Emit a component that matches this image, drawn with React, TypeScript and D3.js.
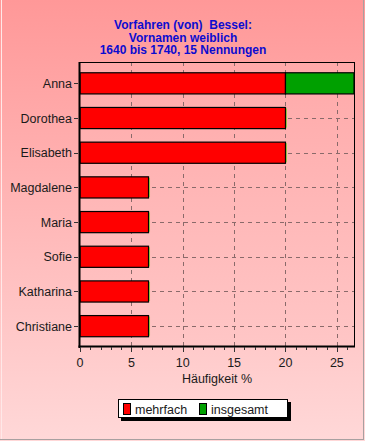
import React, { useEffect } from 'react';
import * as d3 from 'd3';

const W = 365;
const H = 441;

const titleLines = ['Vorfahren (von)  Bessel:', 'Vornamen weiblich', '1640 bis 1740, 15 Nennungen'];
const names = ['Anna', 'Dorothea', 'Elisabeth', 'Magdalene', 'Maria', 'Sofie', 'Katharina', 'Christiane'];
const mehrfach = [20, 20, 20, 6.67, 6.67, 6.67, 6.67, 6.67];
const insgesamt = [6.67, 0, 0, 0, 0, 0, 0, 0];
const xTicks = [0, 5, 10, 15, 20, 25];
const legendItems = [
  { label: 'mehrfach', color: '#ff0000' },
  { label: 'insgesamt', color: '#00a000' },
];

const FONT = '"Liberation Sans", Arial, sans-serif';

const App: React.FC = () => {
  useEffect(() => {
    document.body.style.margin = '0';
  }, []);

  const left = 80;
  const right = 354;
  const top = 62;
  const bottom = 346;

  const x = d3.scaleLinear().domain([0, 26.67]).range([left, right]);
  const y = d3.scaleBand<string>().domain(names).range([66, 343.5]).paddingInner(0.39).paddingOuter(0.195);
  const minor = d3.range(0, 27, 1);

  return (
    <svg width={W} height={H} style={{ display: 'block' }} fontFamily={FONT}>
      <defs>
        <linearGradient id="bg" x1="0" y1="0" x2="0" y2="1">
          <stop offset="0" stopColor="#ff9898" />
          <stop offset="1" stopColor="#ffd8d8" />
        </linearGradient>
        <linearGradient id="plotbg" x1="0" y1="0" x2="0" y2="1">
          <stop offset="0" stopColor="#ffa9a9" />
          <stop offset="1" stopColor="#ffc6c6" />
        </linearGradient>
      </defs>
      <rect x={0} y={0} width={W} height={H} fill="url(#bg)" />
      <line x1={363.5} y1={0} x2={363.5} y2={440} stroke="#a8a0a0" />
      <line x1={0} y1={439.5} x2={364} y2={439.5} stroke="#a8a0a0" />
      <line x1={1.5} y1={0} x2={1.5} y2={439} stroke="#ffe8e8" />

      {titleLines.map((t, i) => (
        <text key={t} x={183} y={29 + i * 12.5} textAnchor="middle" fontSize={12} fontWeight="bold" fill="#0c0cd0" style={{ whiteSpace: 'pre' }}>
          {t}
        </text>
      ))}

      <rect x={left} y={top} width={right - left} height={bottom - top} fill="url(#plotbg)" />

      {/* grid */}
      {xTicks.filter(t => t > 0).map(t => (
        <line key={'gx' + t} x1={Math.round(x(t)) + 0.5} x2={Math.round(x(t)) + 0.5} y1={top} y2={bottom} stroke="#8a6a6a" strokeDasharray="4,4" />
      ))}
      {names.map(n => (
        <line key={'gy' + n} x1={left} x2={right} y1={Math.round(y(n)! + y.bandwidth() / 2) + 0.5} y2={Math.round(y(n)! + y.bandwidth() / 2) + 0.5} stroke="#8a6a6a" strokeDasharray="4,4" />
      ))}

      {/* bars */}
      {names.map((n, i) => (
        <g key={'b' + n}>
          <rect x={x(0)} y={y(n)!} width={x(mehrfach[i]) - x(0)} height={y.bandwidth()} fill="#ff0000" stroke="#000" strokeWidth={1.2} />
          {insgesamt[i] > 0 ? (
            <rect x={x(mehrfach[i])} y={y(n)!} width={x(mehrfach[i] + insgesamt[i]) - x(mehrfach[i])} height={y.bandwidth()} fill="#00a000" stroke="#000" strokeWidth={1.2} />
          ) : (
            <line x1={x(mehrfach[i]) + 1} x2={x(mehrfach[i]) + 1} y1={y(n)! + 1} y2={y(n)! + y.bandwidth() - 1} stroke="#90c040" strokeWidth={1} />
          )}
        </g>
      ))}

      {/* frame */}
      <line x1={left} x2={right} y1={top + 0.5} y2={top + 0.5} stroke="#000" />
      <line x1={right + 0.5} x2={right + 0.5} y1={top} y2={bottom} stroke="#000" />
      <line x1={left - 0.5} x2={left - 0.5} y1={top} y2={bottom + 2} stroke="#000" strokeWidth={2} />
      <line x1={left - 1.5} x2={right + 1} y1={bottom + 0.5} y2={bottom + 0.5} stroke="#000" strokeWidth={2} />

      {/* y axis */}
      {names.map(n => {
        const cy = y(n)! + y.bandwidth() / 2;
        return (
          <g key={'yl' + n}>
            <line x1={74} x2={78} y1={Math.round(cy) + 0.5} y2={Math.round(cy) + 0.5} stroke="#333" />
            <text x={72} y={cy + 4.5} textAnchor="end" fontSize={12.5} fill="#1a1a1a">{n}</text>
          </g>
        );
      })}

      {/* x axis */}
      {minor.map(t => (
        <line key={'mt' + t} x1={Math.round(x(t)) + 0.5} x2={Math.round(x(t)) + 0.5} y1={bottom + 1} y2={bottom + (t % 5 === 0 ? 6 : 4)} stroke="#333" />
      ))}
      {xTicks.map(t => (
        <text key={'xl' + t} x={x(t)} y={367} textAnchor="middle" fontSize={12.5} fill="#1a1a1a">{t}</text>
      ))}
      <text x={(left + right) / 2} y={383} textAnchor="middle" fontSize={12.5} fill="#1a1a1a">Häufigkeit %</text>

      {/* legend */}
      <rect x={121} y={402} width={170} height={19} fill="#000" />
      <rect x={118.5} y={399.5} width={169} height={18} fill="#fff" stroke="#000" />
      {legendItems.map((it, i) => {
        const lx = i === 0 ? 123 : 199;
        return (
          <g key={it.label}>
            <rect x={lx + 0.5} y={403.5} width={7} height={11} fill={it.color} stroke="#000" />
            <text x={lx + 12} y={414} fontSize={12.5} fill="#1a1a1a">{it.label}</text>
          </g>
        );
      })}
    </svg>
  );
};

export default App;
